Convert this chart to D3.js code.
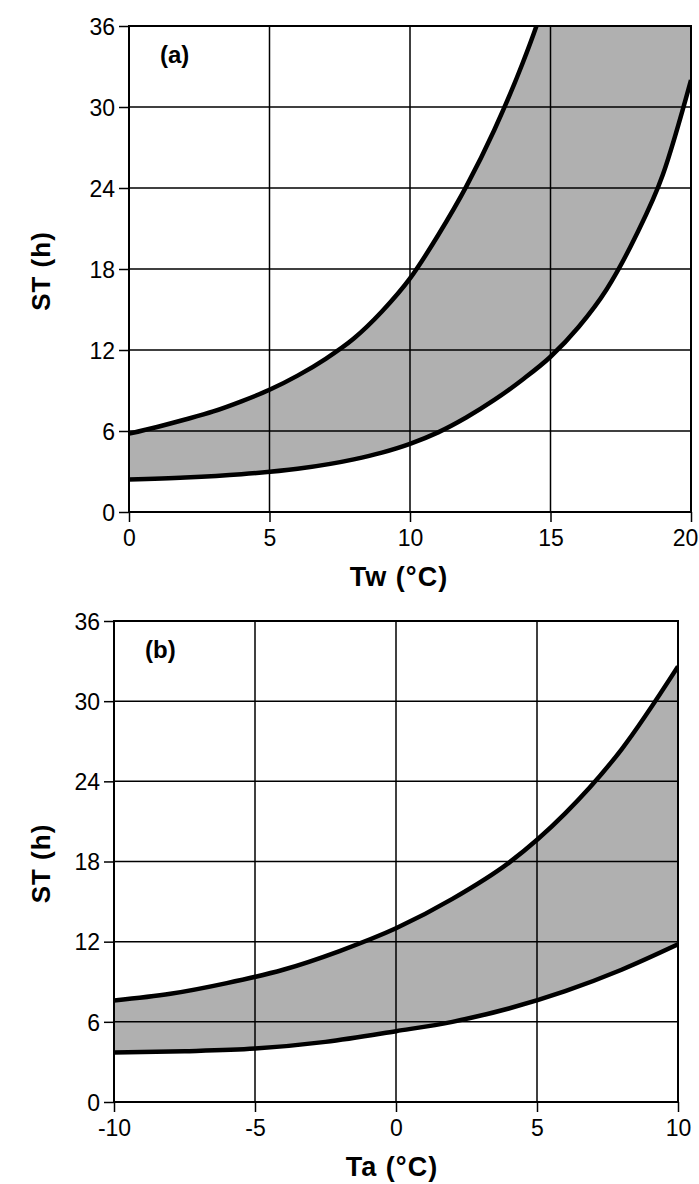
<!DOCTYPE html>
<html>
<head>
<script src="https://cdn.jsdelivr.net/npm/d3@7/dist/d3.min.js"></script>
<style>
  body { margin: 0; background: #fff; }
  text { font-family: "Liberation Sans", Arial, sans-serif; }
</style>
</head>
<body>
<script>
// tick values
var stTicks = [0, 6, 12, 18, 24, 30, 36];
var twTicks = [0, 5, 10, 15, 20];
var taTicks = [-10, -5, 0, 5, 10];

// panel (a): storage time vs water temperature, upper and lower bounds
var twUpper = [[0, 5.8], [1, 6.3], [2, 6.85], [3, 7.45], [4, 8.2], [5, 9.05], [6, 10.1], [7, 11.35], [8, 12.85], [9, 14.85], [10, 17.3], [11, 20.5], [12, 24.1], [13, 28.3], [14, 33.2], [14.5, 36], [15, 39.2]];
var twLower = [[0, 2.4], [2, 2.55], [4, 2.8], [6, 3.2], [8, 3.9], [9, 4.4], [10, 5.05], [11, 5.9], [12, 7.0], [13, 8.3], [14, 9.8], [15, 11.5], [16, 13.7], [17, 16.5], [18, 20.3], [19, 25.0], [20, 32.0]];

// panel (b): storage time vs air temperature
var taUpper = [[-10, 7.6], [-8, 8.1], [-6, 8.9], [-4, 9.9], [-2, 11.3], [0, 13.0], [2, 15.2], [4, 17.9], [6, 21.6], [8, 26.4], [10, 32.6]];
var taLower = [[-10, 3.7], [-7.5, 3.8], [-5, 4.0], [-2.5, 4.5], [0, 5.3], [2, 6.0], [4, 7.0], [6, 8.3], [8, 9.9], [10, 11.8]];

var W = 699, H = 1184;
var svg = d3.select("body").append("svg")
  .attr("width", W)
  .attr("height", H);

function drawPanel(p) {
  var x = d3.scaleLinear().domain(p.xDomain).range([p.left, p.right]);
  var y = d3.scaleLinear().domain([0, 36]).range([p.bottom, p.top]);
  var g = svg.append("g");

  var clipId = "clip-" + p.id;
  g.append("clipPath").attr("id", clipId)
    .append("rect")
    .attr("x", p.left).attr("y", p.top)
    .attr("width", p.right - p.left).attr("height", p.bottom - p.top);

  // shaded band: upper curve forward, lower curve back
  var line = d3.line().x(d => x(d[0])).y(d => y(d[1])).curve(d3.curveMonotoneX);
  var lastU = p.upper[p.upper.length - 1], lastL = p.lower[p.lower.length - 1];
  var bandPath = line(p.upper) +
    "L" + x(Math.max(lastU[0], lastL[0])) + "," + y(Math.max(lastU[1], 40)) +
    "L" + x(lastL[0]) + "," + y(Math.max(lastU[1], 40)) +
    "L" + line(p.lower.slice().reverse()).slice(1) + "Z";
  g.append("path")
    .attr("clip-path", "url(#" + clipId + ")")
    .attr("fill", "#b0b0b0")
    .attr("d", bandPath);

  // grid
  g.append("g").selectAll("line")
    .data(p.xTicks.slice(1, -1))
    .join("line")
    .attr("x1", d => x(d)).attr("x2", d => x(d))
    .attr("y1", p.top).attr("y2", p.bottom)
    .attr("stroke", "#000").attr("stroke-width", 1.5);
  g.append("g").selectAll("line")
    .data(stTicks.slice(1, -1))
    .join("line")
    .attr("x1", p.left).attr("x2", p.right)
    .attr("y1", d => y(d)).attr("y2", d => y(d))
    .attr("stroke", "#000").attr("stroke-width", 1.5);

  // curves
  [p.upper, p.lower].forEach(function (s) {
    g.append("path")
      .datum(s)
      .attr("clip-path", "url(#" + clipId + ")")
      .attr("fill", "none")
      .attr("stroke", "#000")
      .attr("stroke-width", 4.5)
      .attr("d", line);
  });

  // frame
  g.append("rect")
    .attr("x", p.left).attr("y", p.top)
    .attr("width", p.right - p.left).attr("height", p.bottom - p.top)
    .attr("fill", "none").attr("stroke", "#000").attr("stroke-width", 2);

  // axes
  var fmt = d => String(d);
  var yAxis = d3.axisLeft(y).tickValues(stTicks).tickSize(10).tickPadding(4).tickFormat(fmt);
  var gy = g.append("g").attr("transform", "translate(" + p.left + ",0)").call(yAxis);
  var xAxis = d3.axisBottom(x).tickValues(p.xTicks).tickSize(10).tickPadding(8).tickFormat(fmt);
  var gx = g.append("g").attr("transform", "translate(0," + p.bottom + ")").call(xAxis);
  [gx, gy].forEach(function (a) {
    a.select(".domain").remove();
    a.selectAll(".tick line").attr("stroke", "#000").attr("stroke-width", 1.5);
    a.selectAll(".tick text").attr("fill", "#000")
      .style("font-size", "23px")
      .style("font-family", "'Liberation Sans', Arial, sans-serif");
  });
  gy.selectAll(".tick text").attr("dy", "0.36em");
  gx.selectAll(".tick text").filter(d => d === p.xTicks[p.xTicks.length - 1])
    .attr("dx", p.lastDx);

  // labels
  g.append("text")
    .attr("x", p.left + 31).attr("y", p.top + 37)
    .style("font-size", "24px").style("font-weight", "bold")
    .text(p.tag);
  g.append("text")
    .attr("x", p.labelX).attr("y", p.bottom + 74)
    .attr("text-anchor", "middle")
    .style("font-size", "27px").style("font-weight", "bold")
    .style("letter-spacing", "1px")
    .text(p.xLabel);
  g.append("text")
    .attr("transform", "translate(50," + ((p.top + p.bottom) / 2 + 2) + ") rotate(-90)")
    .attr("text-anchor", "middle")
    .style("font-size", "26px").style("font-weight", "bold")
    .style("letter-spacing", "1px")
    .text("ST (h)");
}

drawPanel({
  id: "a", tag: "(a)", xLabel: "Tw (°C)",
  xDomain: [0, 20], xTicks: twTicks,
  left: 129, right: 691, top: 26, bottom: 512,
  upper: twUpper, lower: twLower,
  labelX: 399, lastDx: -6
});

drawPanel({
  id: "b", tag: "(b)", xLabel: "Ta (°C)",
  xDomain: [-10, 10], xTicks: taTicks,
  left: 114, right: 678, top: 621, bottom: 1102,
  upper: taUpper, lower: taLower,
  labelX: 392, lastDx: 0
});
</script>
</body>
</html>
